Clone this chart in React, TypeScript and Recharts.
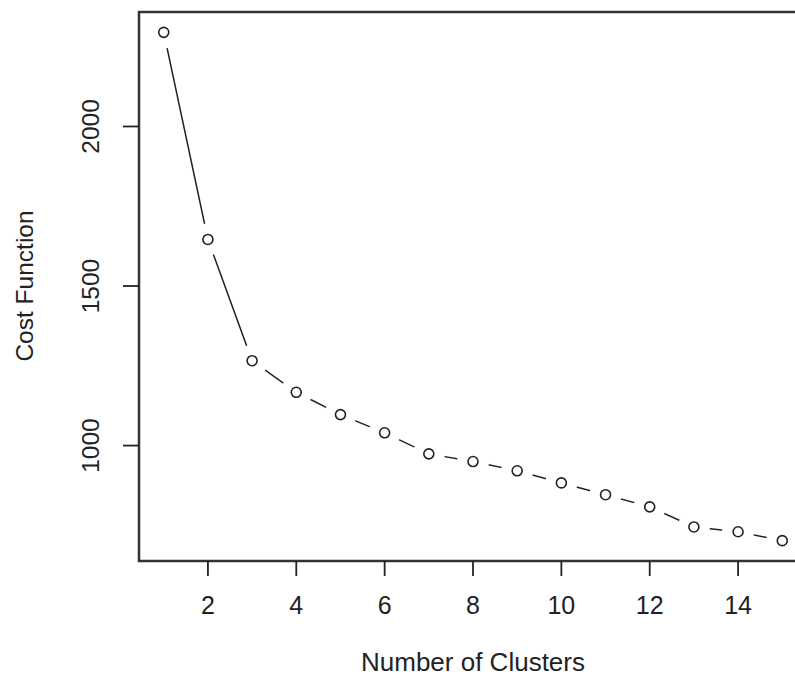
import { LineChart, Line, XAxis, YAxis, ReferenceArea } from 'recharts';

const clusters = [1, 2, 3, 4, 5, 6, 7, 8, 9, 10, 11, 12, 13, 14, 15];
const costs = [2295, 1646, 1266, 1167, 1097, 1040, 974, 950, 921, 883, 846, 808, 745, 730, 702];
const xTicks = [2, 4, 6, 8, 10, 12, 14];
const yTicks = [1000, 1500, 2000];

const xDomain: [number, number] = [0.44, 15.56];
const yDomain: [number, number] = [638.3, 2358.7];

const FONT = '"Liberation Sans", Arial, Helvetica, sans-serif';
const INK = '#222';

const data = clusters.map((k, i) => ({ k, cost: costs[i] }));

// R type="b": open circle with a gap in the line around it
function GapDot(props: any) {
  const { cx, cy, index } = props;
  if (cx == null || cy == null) return null;
  return (
    <g key={`dot-${index}`}>
      <circle cx={cx} cy={cy} r={16} fill="#fff" stroke="none" />
      <circle cx={cx} cy={cy} r={5} fill="#fff" stroke={INK} strokeWidth={1.6} />
    </g>
  );
}

function XTick(props: any) {
  const { x, payload } = props;
  return (
    <text x={x} y={614} textAnchor="middle" fontSize={25} fontFamily={FONT} fill={INK}>
      {payload.value}
    </text>
  );
}

function YTick(props: any) {
  const { y, payload } = props;
  return (
    <text
      x={99}
      y={y}
      transform={`rotate(-90, 99, ${y})`}
      textAnchor="middle"
      fontSize={24.5}
      fontFamily={FONT}
      fill={INK}
    >
      {payload.value}
    </text>
  );
}

const xLabel = () => (
  <text x={473} y={671} textAnchor="middle" fontSize={26} fontFamily={FONT} fill={INK}>
    Number of Clusters
  </text>
);

const yLabel = () => (
  <text
    x={33}
    y={286}
    transform="rotate(-90, 33, 286)"
    textAnchor="middle"
    fontSize={24.5}
    fontFamily={FONT}
    fill={INK}
  >
    Cost Function
  </text>
);

export default function App() {
  return (
    <div
      style={{
        position: 'fixed',
        left: 0,
        top: 0,
        width: 795,
        height: 678,
        overflow: 'hidden',
        background: '#fff',
      }}
    >
      <LineChart width={830} height={678} data={data} margin={{ top: 12, right: 23, bottom: 0, left: 0 }}>
        <XAxis
          dataKey="k"
          type="number"
          domain={xDomain}
          ticks={xTicks}
          allowDataOverflow
          height={117}
          axisLine={false}
          tickLine={{ stroke: INK, strokeWidth: 1.8 }}
          tickSize={15}
          tick={<XTick />}
          label={xLabel}
        />
        <YAxis
          type="number"
          domain={yDomain}
          ticks={yTicks}
          allowDataOverflow
          width={139}
          axisLine={false}
          tickLine={{ stroke: INK, strokeWidth: 1.8 }}
          tickSize={16}
          tick={<YTick />}
          label={yLabel}
        />
        <ReferenceArea
          x1={xDomain[0]}
          x2={xDomain[1]}
          y1={yDomain[0]}
          y2={yDomain[1]}
          fill="none"
          fillOpacity={0}
          stroke="#333"
          strokeWidth={2.5}
          ifOverflow="visible"
        />
        <Line
          dataKey="cost"
          type="linear"
          stroke={INK}
          strokeWidth={1.5}
          dot={<GapDot />}
          activeDot={false}
          isAnimationActive={false}
        />
      </LineChart>
    </div>
  );
}
